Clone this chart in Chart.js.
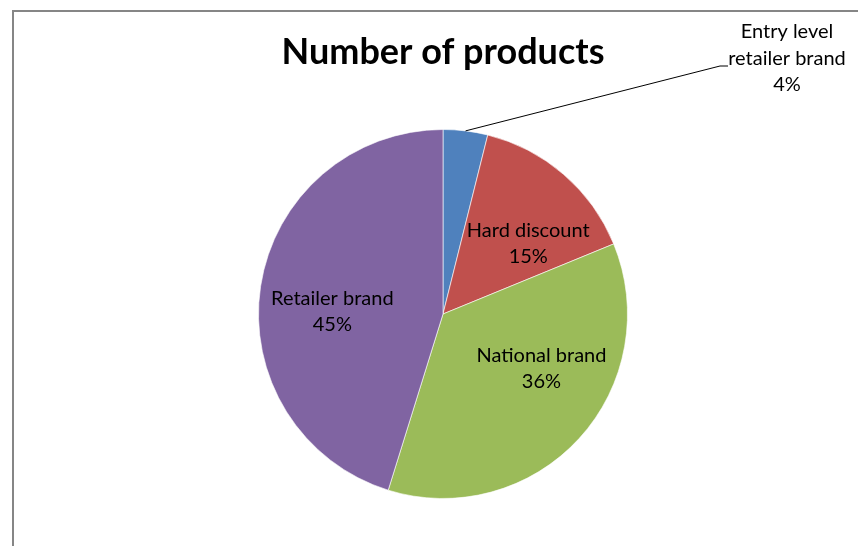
<!DOCTYPE html>
<html>
<head>
<meta charset="utf-8">
<script src="https://cdn.jsdelivr.net/npm/chart.js@4"></script>
<style>
  html, body { margin: 0; padding: 0; background: #fff; }
  #wrap { width: 858px; height: 546px; }
</style>
</head>
<body>
<div id="wrap"><canvas id="pie" width="858" height="546"></canvas></div>
<script>
  const categories = ["Entry level retailer brand", "Hard discount", "National brand", "Retailer brand"];
  const labelNames = [["Entry level", "retailer brand"], ["Hard discount"], ["National brand"], ["Retailer brand"]];
  const shares = [3.9, 14.9, 36.0, 45.2];
  const colors = ["#4F81BD", "#C0504D", "#9BBB59", "#8064A2"];

  const FONT = "Lato, 'Open Sans', sans-serif";

  function pctLabel(i) {
    const total = shares.reduce((a, b) => a + b, 0);
    return Math.round(shares[i] / total * 100) + "%";
  }

  // frame + title + data labels, drawn around the pie
  const decorations = {
    id: "decorations",
    beforeDraw(chart) {
      const ctx = chart.ctx;
      ctx.save();
      ctx.strokeStyle = "#868686";
      ctx.lineWidth = 2;
      ctx.beginPath();
      ctx.moveTo(13, 546);
      ctx.lineTo(13, 11);
      ctx.lineTo(858, 11);
      ctx.stroke();
      ctx.restore();
    },
    afterDatasetsDraw(chart) {
      const ctx = chart.ctx;
      const arcs = chart.getDatasetMeta(0).data;
      ctx.save();
      ctx.fillStyle = "#000";
      ctx.textAlign = "center";
      ctx.textBaseline = "middle";

      ctx.font = "bold 36px " + FONT;
      ctx.fillText("Number of products", 443, 52);

      ctx.font = "20px " + FONT;
      // inside labels: angle tweak (deg) and radius fraction, roughly Excel's best fit
      const place = [null, { shift: 9.5, r: 0.6 }, { shift: -13.5, r: 0.61 }, { shift: -7.5, r: 0.6 }];
      arcs.forEach((arc, i) => {
        const p = arc.getProps(["x", "y", "startAngle", "endAngle", "outerRadius"], true);
        const mid = (p.startAngle + p.endAngle) / 2;
        const lines = labelNames[i].concat([pctLabel(i)]);
        if (!place[i]) {
          // outside label with leader line
          const ex = p.x + Math.cos(mid) * p.outerRadius;
          const ey = p.y + Math.sin(mid) * p.outerRadius;
          ctx.strokeStyle = "#000";
          ctx.lineWidth = 1;
          ctx.beginPath();
          ctx.moveTo(ex, ey);
          ctx.lineTo(720, 66);
          ctx.lineTo(728, 66);
          ctx.stroke();
          lines.forEach((t, k) => ctx.fillText(t, 787, 32 + k * 26.5));
          return;
        }
        const a = mid + place[i].shift * Math.PI / 180;
        const cx = p.x + Math.cos(a) * p.outerRadius * place[i].r;
        const cy = p.y + Math.sin(a) * p.outerRadius * place[i].r;
        lines.forEach((t, k) => ctx.fillText(t, cx, cy + (k - (lines.length - 1) / 2) * 26));
      });
      ctx.restore();
    }
  };

  new Chart(document.getElementById("pie"), {
    type: "pie",
    data: {
      labels: categories,
      datasets: [{
        data: shares,
        backgroundColor: colors,
        borderColor: "rgba(255,255,255,0.6)",
        borderWidth: 1
      }]
    },
    options: {
      responsive: false,
      animation: false,
      layout: { padding: { top: 129, bottom: 47, left: 28, right: 0 } },
      plugins: {
        legend: { display: false },
        title: { display: false },
        tooltip: { enabled: false }
      }
    },
    plugins: [decorations]
  });
</script>
</body>
</html>
